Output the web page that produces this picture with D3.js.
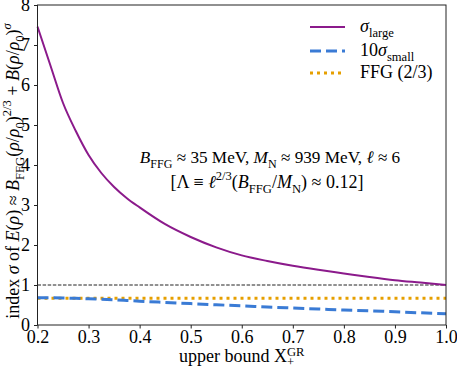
<!DOCTYPE html>
<html>
<head>
<meta charset="utf-8">
<script src="https://cdn.jsdelivr.net/npm/d3@7"></script>
</head>
<body style="margin:0; background:#fff">
<div id="chart"></div>
<script>
// values
const xGrid = [0.2, 0.225, 0.25, 0.275, 0.3, 0.325, 0.35, 0.375, 0.4, 0.45, 0.5, 0.55, 0.6, 0.65, 0.7, 0.75, 0.8, 0.85, 0.9, 0.95, 1.0]
const sigmaLarge = [7.46, 6.5, 5.55, 4.85, 4.25, 3.8, 3.45, 3.17, 2.94, 2.52, 2.2, 1.94, 1.74, 1.6, 1.48, 1.38, 1.29, 1.2, 1.12, 1.06, 1.0]
const sigmaSmall10 = [0.68, 0.679, 0.675, 0.667, 0.655, 0.643, 0.63, 0.613, 0.595, 0.565, 0.535, 0.505, 0.48, 0.45, 0.425, 0.40, 0.375, 0.355, 0.33, 0.305, 0.28]
const ffgX = [0.2, 1.0]
const ffgY = [0.667, 0.667]
const refX = [0.2, 1.0]
const refY = [1, 1]
const xTicks = [0.2, 0.3, 0.4, 0.5, 0.6, 0.7, 0.8, 0.9, 1.0]
const yTicks = [0, 1, 2, 3, 4, 5, 6, 7, 8]

const FONT = "Liberation Serif"
const width = 457
const height = 370
const margin = { top: 5, right: 11, bottom: 45, left: 37.5 }
const innerW = width - margin.left - margin.right
const innerH = height - margin.top - margin.bottom

const svg = d3.select("#chart")
  .append("svg")
  .attr("width", width)
  .attr("height", height)
  .attr("font-family", FONT)

const g = svg.append("g")
  .attr("transform", `translate(${margin.left},${margin.top})`)

const x = d3.scaleLinear().domain([0.2, 1.0]).range([0, innerW])
const y = d3.scaleLinear().domain([0, 8]).range([innerH, 0])

// rich text helper: parts = [text, kind, italic]
function rich(sel, parts, size, supK = 0.42) {
  sel.attr("font-family", FONT).attr("fill", "#000")
  let off = 0
  const spans = []
  parts.forEach(([t, kind, it]) => {
    const target = kind === "sub" ? size * 0.3 : kind === "sup" ? -size * supK : 0
    const ts = sel.append("tspan")
      .attr("dy", target - off)
      .attr("font-size", kind ? size * 0.7 : size)
      .text(t)
    if (it) ts.attr("font-style", "italic")
    off = target
    spans.push(ts)
  })
  return spans
}

const line = d3.line()
  .x(d => x(d[0]))
  .y(d => y(d[1]))
  .curve(d3.curveMonotoneX)

// reference line at 1
g.append("path")
  .datum(refX.map((v, i) => [v, refY[i]]))
  .attr("d", line)
  .attr("fill", "none")
  .attr("stroke", "#222")
  .attr("stroke-width", 1)
  .attr("stroke-dasharray", "3.5,1.6")

g.append("path")
  .datum(ffgX.map((v, i) => [v, ffgY[i]]))
  .attr("d", line)
  .attr("fill", "none")
  .attr("stroke", "#e69f00")
  .attr("stroke-width", 3)
  .attr("stroke-dasharray", "3,4")

g.append("path")
  .datum(xGrid.map((v, i) => [v, sigmaSmall10[i]]))
  .attr("d", line)
  .attr("fill", "none")
  .attr("stroke", "#3a7bd5")
  .attr("stroke-width", 3)
  .attr("stroke-dasharray", "11,5")

g.append("path")
  .datum(xGrid.map((v, i) => [v, sigmaLarge[i]]))
  .attr("d", line)
  .attr("fill", "none")
  .attr("stroke", "#8b1a8b")
  .attr("stroke-width", 2)

// axes
const xAxis = g.append("g")
  .attr("transform", `translate(0,${innerH})`)
  .call(d3.axisBottom(x).tickValues(xTicks).tickFormat(d3.format(".1f")).tickSizeOuter(0).tickSize(3.5).tickPadding(2.5))
const yAxis = g.append("g")
  .call(d3.axisLeft(y).tickValues(yTicks).tickFormat(d3.format("d")).tickSizeOuter(0).tickSize(3.5))

;[xAxis, yAxis].forEach(a => {
  a.attr("font-family", FONT).attr("font-size", 18)
  a.selectAll("text").attr("font-family", FONT).attr("font-size", 18).attr("fill", "#000")
  a.selectAll("line").attr("stroke", "#222")
  a.select(".domain").remove()
})
xAxis.selectAll("text").attr("dy", "0.65em")
yAxis.selectAll("text").attr("dx", "-0.05em")

// frame
g.append("rect")
  .attr("width", innerW)
  .attr("height", innerH)
  .attr("fill", "none")
  .attr("stroke", "#222")
  .attr("stroke-width", 1)

// x label
const xl = svg.append("text")
  .attr("x", margin.left + innerW / 2)
  .attr("y", 362)
  .attr("text-anchor", "middle")
const xlSpans = rich(xl, [["upper bound X"], ["GR", "sup"]], 18, 0.33)
const grW = xlSpans[1].node().getComputedTextLength()
xl.append("tspan")
  .attr("font-size", 18 * 0.7)
  .attr("dx", -grW)
  .attr("dy", 18 * 0.33 + 4)
  .text("+")

// y label
const yl = svg.append("text")
  .attr("transform", `translate(18.5,${margin.top + innerH / 2 + 6}) rotate(-90)`)
  .attr("text-anchor", "middle")
rich(yl, [
  ["index "], ["σ", null, true], [" of "], ["E", null, true], ["("], ["ρ", null, true], [") ≈ "],
  ["B", null, true], ["FFG", "sub"], ["("], ["ρ", null, true], ["/"], ["ρ", null, true], ["0", "sub"],
  [")"], ["2/3", "sup"], [" + "], ["B", null, true], ["("], ["ρ", null, true], ["/"], ["ρ", null, true],
  ["0", "sub"], [")"], ["σ", "sup", true]
], 18)

// annotation
const a1 = svg.append("text")
  .attr("x", 270).attr("y", 163).attr("text-anchor", "middle")
rich(a1, [["B", null, true], ["FFG", "sub"], [" ≈ 35 MeV, "], ["M", null, true], ["N", "sub"],
  [" ≈ 939 MeV, "], ["ℓ", null, true], [" ≈ 6"]], 17.2)
const a2 = svg.append("text")
  .attr("x", 267).attr("y", 188).attr("text-anchor", "middle")
rich(a2, [["[Λ ≡ "], ["ℓ", null, true], ["2/3", "sup"], ["("], ["B", null, true], ["FFG", "sub"],
  ["/"], ["M", null, true], ["N", "sub"], [") ≈ 0.12]"]], 18)

// legend
const legend = svg.append("g")
const legItems = [
  { y: 27, color: "#8b1a8b", w: 2, dash: null, parts: [["σ", null, true], ["large", "sub"]] },
  { y: 51, color: "#3a7bd5", w: 3, dash: "11,5", parts: [["10"], ["σ", null, true], ["small", "sub"]] },
  { y: 73, color: "#e69f00", w: 3, dash: "3,4", parts: [["FFG (2/3)"]] }
]
legItems.forEach(it => {
  const l = legend.append("line")
    .attr("x1", 310).attr("x2", 345)
    .attr("y1", it.y).attr("y2", it.y)
    .attr("stroke", it.color)
    .attr("stroke-width", it.w)
  if (it.dash) l.attr("stroke-dasharray", it.dash)
  const t = legend.append("text").attr("x", 360).attr("y", it.y + 5)
  rich(t, it.parts, 18)
})
</script>
</body>
</html>
